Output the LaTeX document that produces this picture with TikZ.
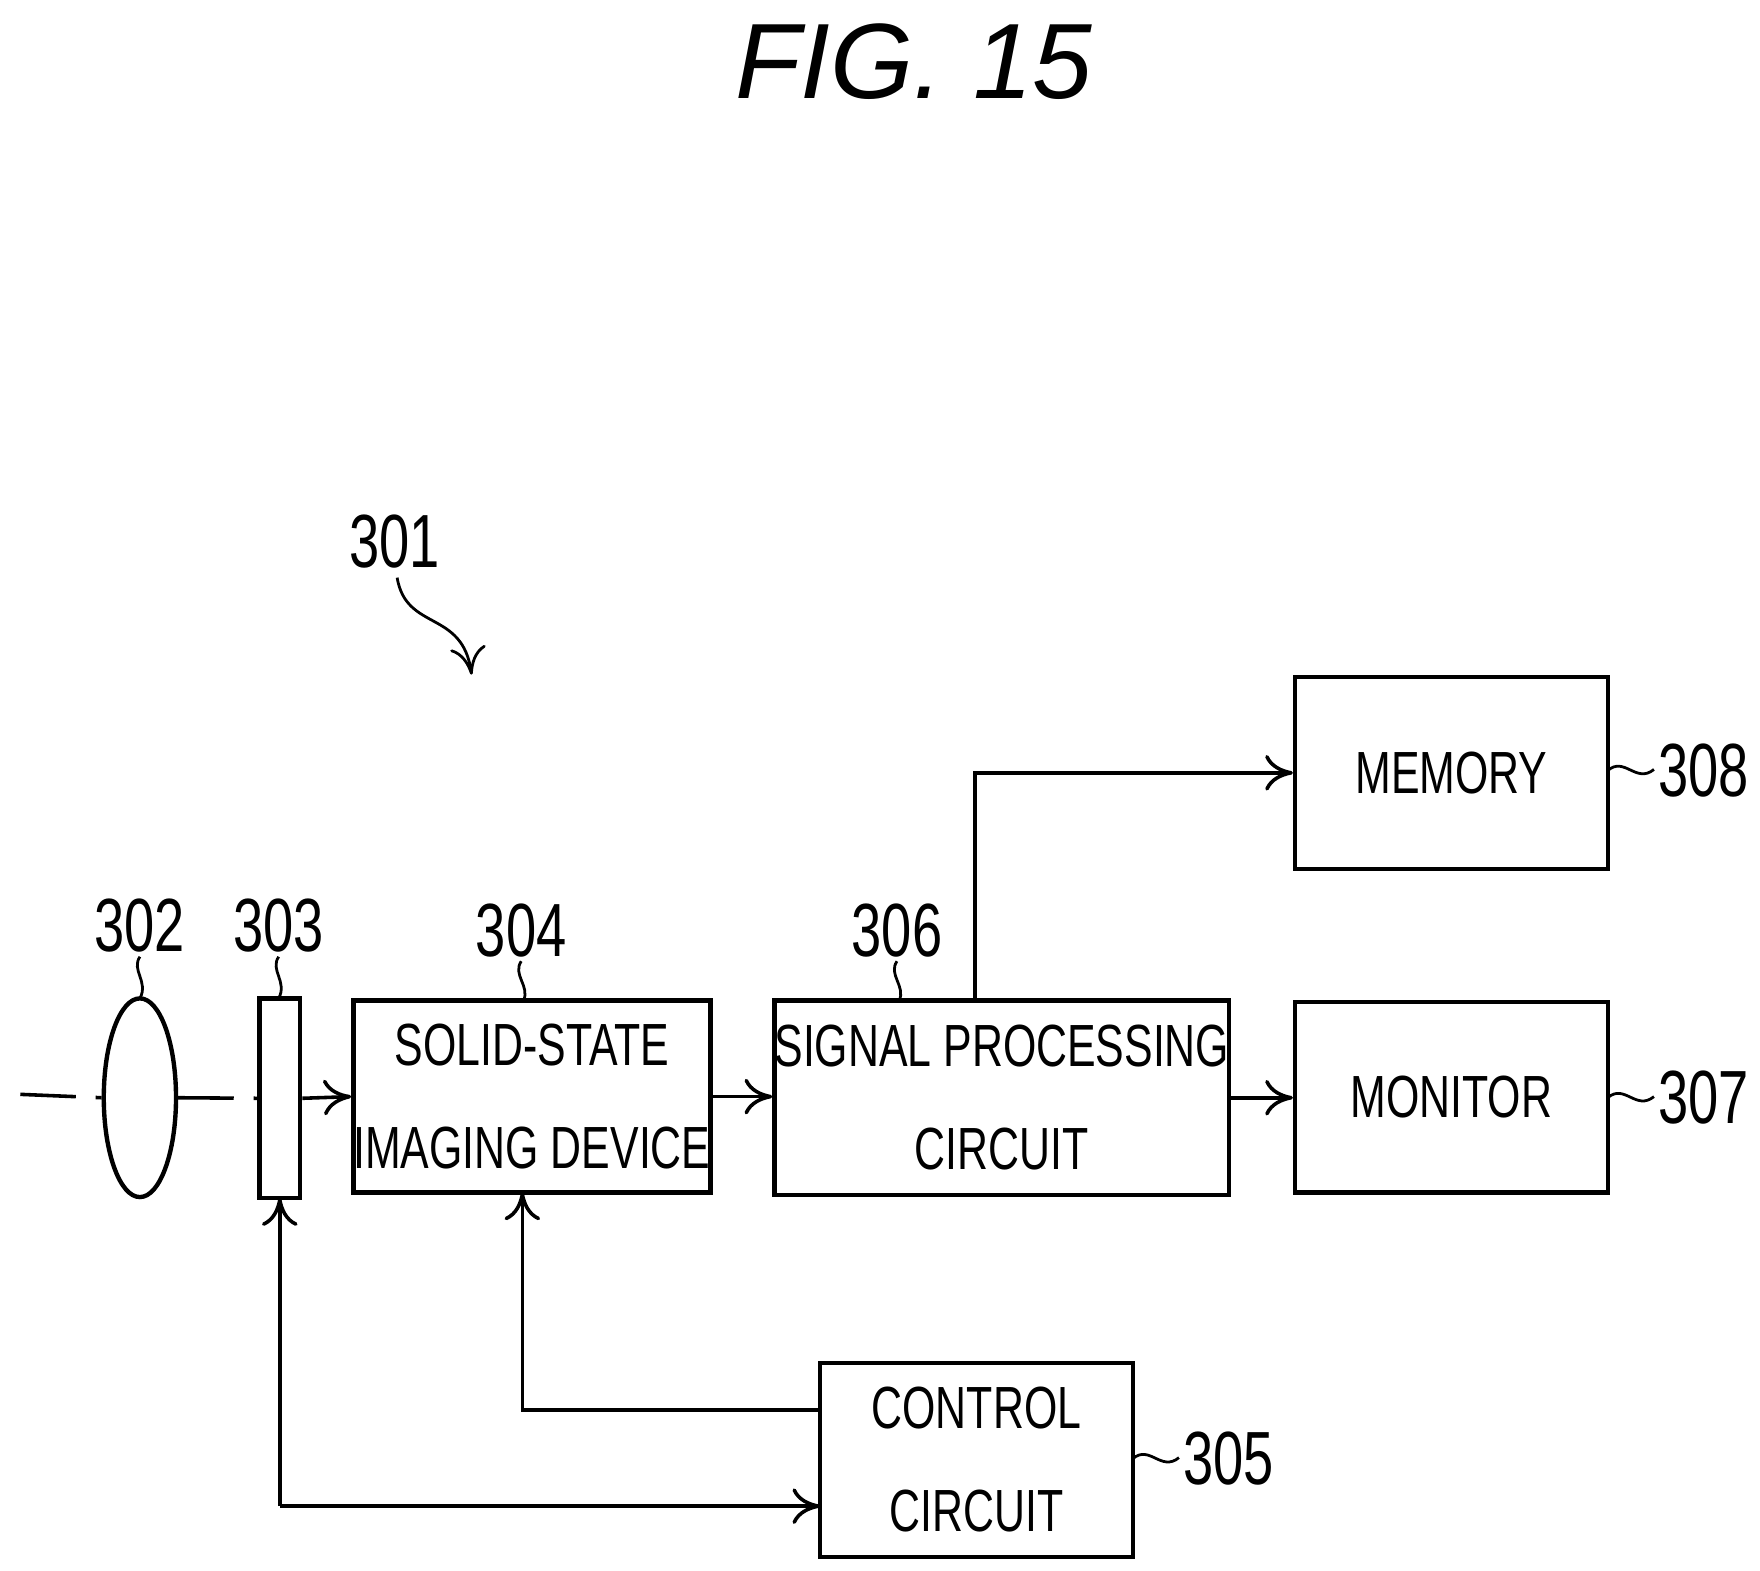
\documentclass[tikz,border=0pt]{standalone}
\usepackage{fontspec}
\setmainfont{Liberation Sans}
\newfontfamily\narrow{Liberation Sans}[FakeStretch=0.72]
\usetikzlibrary{arrows.meta,shapes.geometric}
\begin{document}
\begin{tikzpicture}[x=0.01cm,y=-0.01cm,line width=0.9pt,
  box/.style={draw,line width=1.1pt,inner sep=0pt,align=center,font=\narrow\fontsize{15pt}{26pt}\selectfont},
  lab/.style={font=\narrow\fontsize{19pt}{20pt}\selectfont,inner sep=0pt},
  arr/.style={-{To[length=7pt,width=9pt]}},
  lead/.style={line width=0.7pt}]
\useasboundingbox (0,0) rectangle (1560,1392);
\node[font=\itshape\fontsize{27pt}{30pt}\selectfont] (title) at (810,55) {FIG. 15};
% boxes
\node[box,minimum width=2.53cm,minimum height=1.70cm] (b304) at (471.5,972) {SOLID-STATE\\IMAGING DEVICE};
\node[box,minimum width=3.22cm,minimum height=1.72cm] (b306) at (888,973) {SIGNAL PROCESSING\\CIRCUIT};
\node[box,minimum width=2.77cm,minimum height=1.70cm] (b308) at (1286.5,685) {MEMORY};
\node[box,minimum width=2.77cm,minimum height=1.69cm] (b307) at (1286.5,972.5) {MONITOR};
\node[box,minimum width=2.77cm,minimum height=1.72cm] (b305) at (865.5,1294) {CONTROL\\CIRCUIT};
\node[draw,ellipse,line width=1.1pt,minimum width=0.64cm,minimum height=1.76cm,inner sep=0pt] (lens) at (124,973) {};
\node[draw,line width=1.1pt,minimum width=0.36cm,minimum height=1.77cm,inner sep=0pt] (filt) at (248,973.5) {};
% optical axis
\coordinate (ax0) at (18,970);
\draw[dash pattern=on 14pt off 5pt on 3pt off 5pt] (ax0) -- (lens.west);
\draw[dash pattern=on 14pt off 5pt on 3pt off 5pt] (lens.east) -- (filt.west);
\draw[arr,dash pattern=on 14pt off 5pt on 3pt off 5pt] (filt.east) -- (b304.west);
% signals
\draw[arr] (b304.east) -- (b304.east -| b306.west);
\draw[arr] (b306.east) -- (b306.east -| b307.west);
\draw[arr] (864,887) -- (864,685) -- (b308.west);
\draw[arr] (727,1250) -- (463,1250) -- (463,1057);
\coordinate (fb) at (248,1062);
\coordinate (cc) at (248,1335);
\draw[arr] (cc) -- (fb);
\draw[arr] (cc) -- (727,1335);
% labels
\node[lab] (l301) at (350,480) {301};
\node[lab] (l302) at (124,820) {302};
\node[lab] (l303) at (247,820) {303};
\node[lab] (l304) at (462,825) {304};
\node[lab] (l306) at (795,825) {306};
\node[lab,anchor=west] (l308) at (1468,683) {308};
\node[lab,anchor=west] (l307) at (1468,973) {307};
\node[lab,anchor=west] (l305) at (1047,1293) {305};
% leaders
\draw[lead] (124,848) .. controls (116,860) and (132,870) .. (124,885);
\draw[lead] (247,848) .. controls (239,860) and (255,870) .. (247,885);
\draw[lead] (462,852) .. controls (454,864) and (470,874) .. (464,887);
\draw[lead] (795,852) .. controls (787,864) and (803,874) .. (797,887);
\draw[lead] (1425,683) .. controls (1440,670) and (1450,695) .. (1466,682);
\draw[lead] (1425,973) .. controls (1440,960) and (1450,985) .. (1466,972);
\draw[lead] (1004,1293) .. controls (1019,1280) and (1029,1305) .. (1045,1292);
\draw[lead,-{To[length=7pt,width=9pt]}] (352,512) .. controls (360,560) and (410,540) .. (418,598);
\end{tikzpicture}
\end{document}
